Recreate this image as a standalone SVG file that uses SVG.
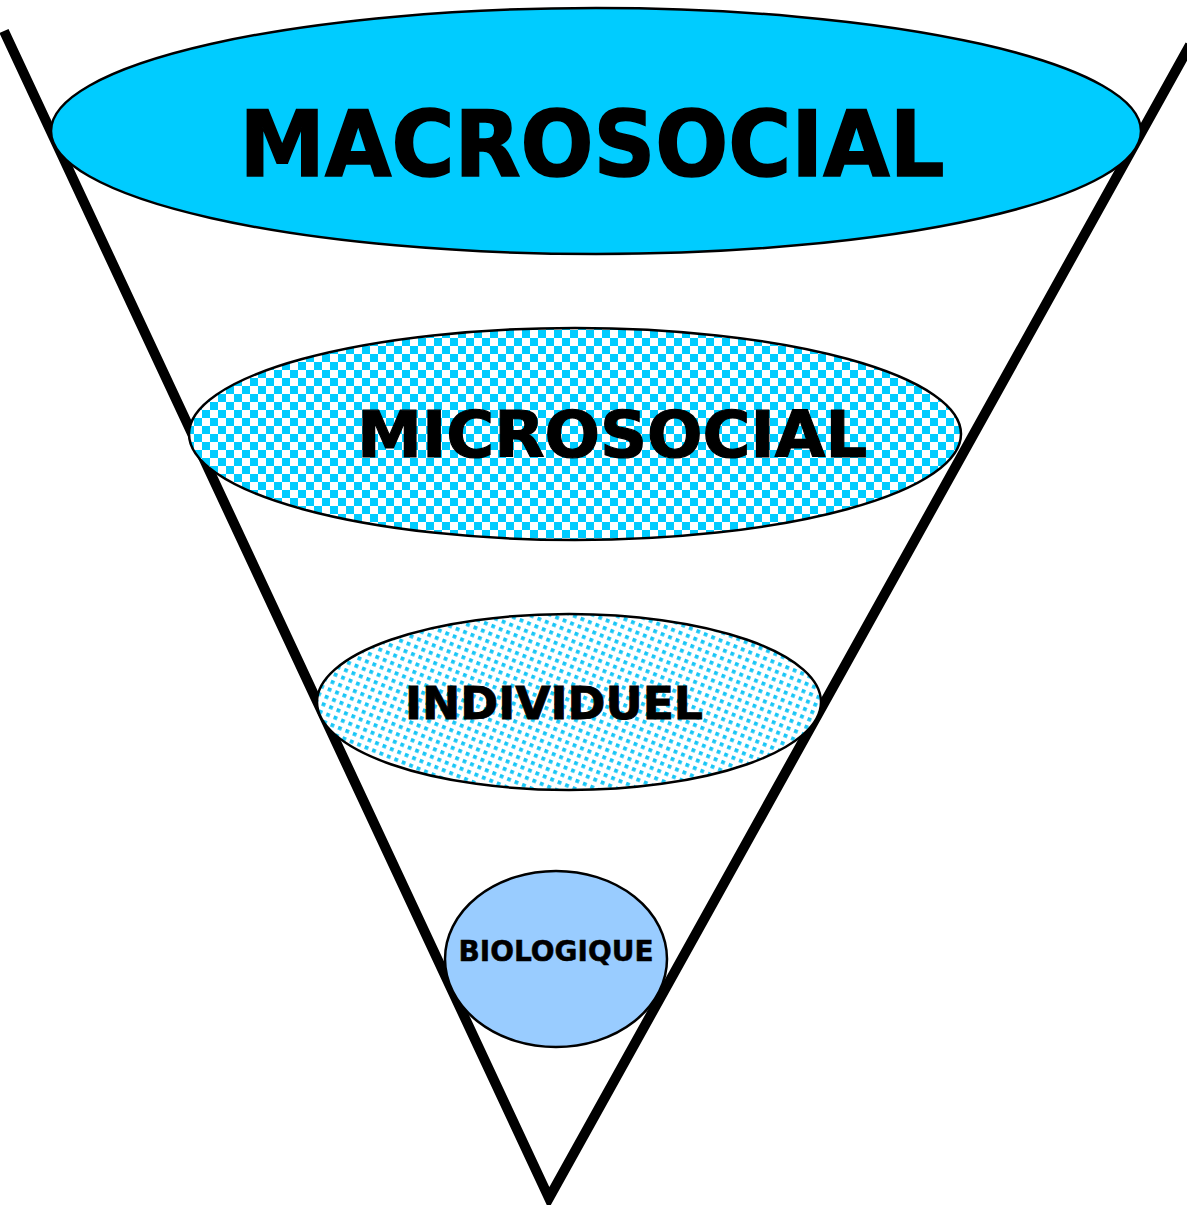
<svg xmlns="http://www.w3.org/2000/svg" width="1187" height="1205" viewBox="0 0 1187 1205">
  <defs>
    <!-- checkerboard fill for the microsocial level -->
    <pattern id="checker" x="2" y="2" width="16" height="16" patternUnits="userSpaceOnUse">
      <rect width="16" height="16" fill="#ffffff"/>
      <rect x="0" y="0" width="8" height="8" fill="#00CCFF"/>
      <rect x="8" y="8" width="8" height="8" fill="#00CCFF"/>
    </pattern>
    <!-- slanted grid of small dots for the individual level -->
    <pattern id="dots" width="8" height="8" patternUnits="userSpaceOnUse" patternTransform="rotate(22)">
      <rect width="8" height="8" fill="#ffffff"/>
      <rect x="2" y="2" width="3.8" height="3.8" fill="#18C6F6"/>
    </pattern>
    <style>
      .lvl { stroke: #000000; stroke-width: 2.5; }
      .lbl { font-family: "DejaVu Sans", Verdana, sans-serif; font-weight: bold; fill: #000000; stroke: #000000; }
    </style>
  </defs>

  <!-- funnel sides -->
  <g id="connectors" stroke="#000000" stroke-width="10" fill="none" stroke-linejoin="miter" stroke-miterlimit="10">
    <polyline points="4,31 549,1198 1190,45"/>
  </g>

  <g id="macrosocial">
    <ellipse class="lvl" cx="596" cy="131" rx="545" ry="123" fill="#00CCFF"/>
    <text class="lbl" x="592" y="176" font-size="90" stroke-width="1.6" text-anchor="middle" textLength="705" lengthAdjust="spacingAndGlyphs">MACROSOCIAL</text>
  </g>

  <g id="microsocial">
    <ellipse class="lvl" cx="575" cy="434" rx="386" ry="106" fill="url(#checker)"/>
    <text class="lbl" x="612" y="457" font-size="64" stroke-width="1.2" text-anchor="middle" textLength="510" lengthAdjust="spacingAndGlyphs">MICROSOCIAL</text>
  </g>

  <g id="individuel">
    <ellipse class="lvl" cx="569" cy="702" rx="252" ry="88" fill="url(#dots)"/>
    <text class="lbl" x="554" y="719" font-size="44" stroke-width="0.9" text-anchor="middle" textLength="298" lengthAdjust="spacingAndGlyphs">INDIVIDUEL</text>
  </g>

  <g id="biologique">
    <ellipse class="lvl" cx="556" cy="959" rx="111" ry="88" fill="#99CCFF"/>
    <text class="lbl" x="556" y="961" font-size="28" stroke-width="0.5" text-anchor="middle" textLength="195" lengthAdjust="spacingAndGlyphs">BIOLOGIQUE</text>
  </g>
</svg>
